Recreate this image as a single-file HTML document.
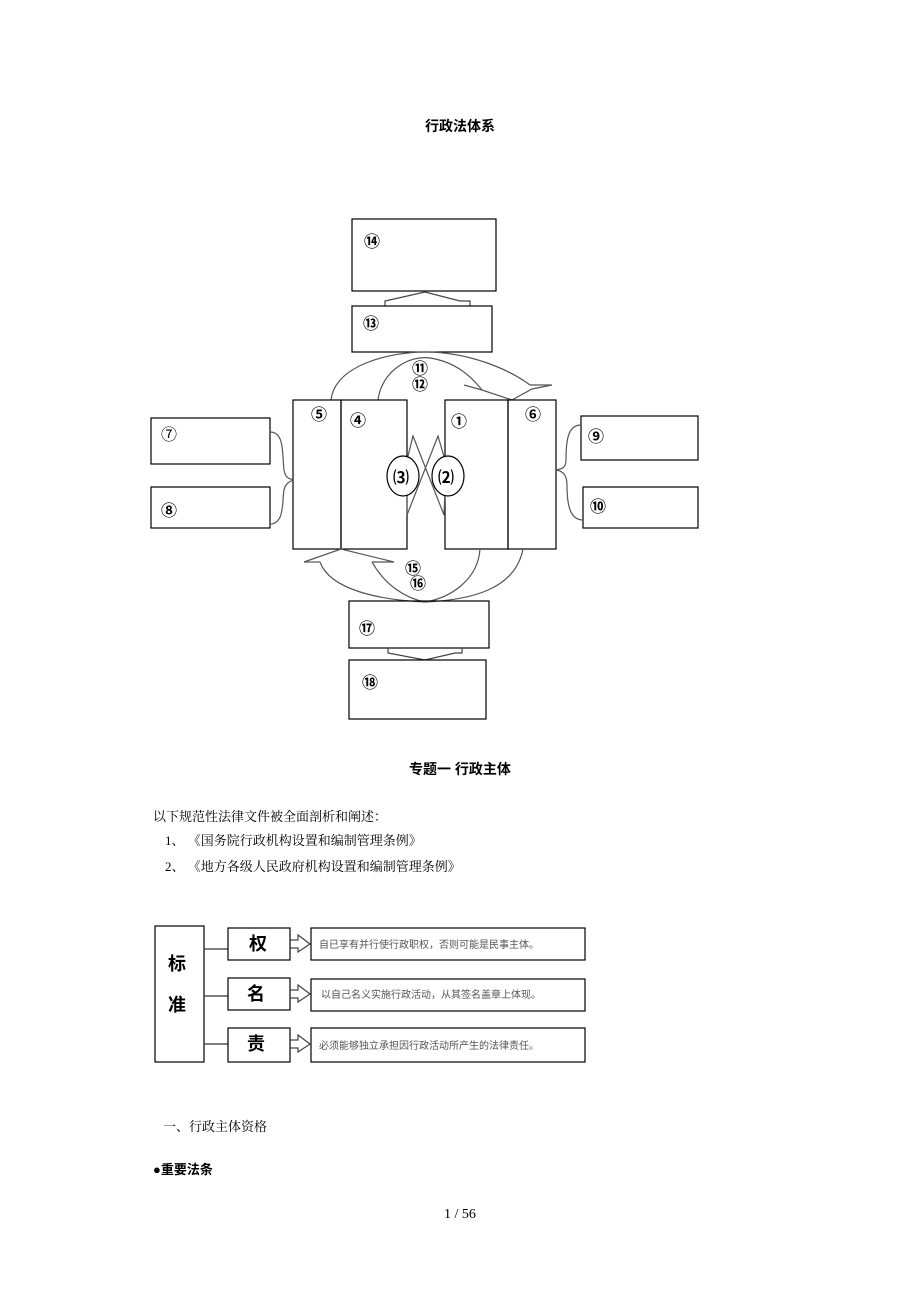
<!DOCTYPE html>
<html><head><meta charset="utf-8"><style>
html,body{margin:0;padding:0;background:#fff;}
body{width:920px;height:1302px;position:relative;overflow:hidden;font-family:"Liberation Serif","Noto Serif CJK SC",serif;color:#000;}
svg{position:absolute;left:0;top:0;}
.t{position:absolute;white-space:nowrap;font-size:13px;}
</style></head><body>
<div class="t" style="left:0;width:920px;text-align:center;top:116px;font-weight:bold;font-size:14px;font-family:'Liberation Sans','Noto Sans CJK SC',sans-serif;">行政法体系</div>
<div class="t" style="left:0;width:920px;text-align:center;top:759px;font-weight:bold;font-size:14px;font-family:'Liberation Sans','Noto Sans CJK SC',sans-serif;">专题一 行政主体</div>
<div class="t" style="left:153px;top:806px;">以下规范性法律文件被全面剖析和阐述：</div>
<div class="t" style="left:165px;top:830px;">1、 《国务院行政机构设置和编制管理条例》</div>
<div class="t" style="left:165px;top:856px;">2、 《地方各级人民政府机构设置和编制管理条例》</div>
<div class="t" style="left:163px;top:1116px;">一、行政主体资格</div>
<div class="t" style="left:153px;top:1159px;font-weight:bold;font-family:'Liberation Sans','Noto Sans CJK SC',sans-serif;">●重要法条</div>
<div class="t" style="left:0;width:920px;text-align:center;top:1207px;font-size:14px;">1 / 56</div>
<svg width="920" height="1302" viewBox="0 0 920 1302" fill="none" stroke="#000" stroke-width="1.2" font-family="Liberation Sans, Noto Sans CJK SC, sans-serif">
<rect x="352" y="219" width="144" height="72"/>
<path d="M385 306 V301 L425 292 L460 301 H470 V306" stroke="#444"/>
<rect x="352" y="306" width="140" height="46"/>
<path d="M331 400 C335 365 390 352 425 352 C470 352 510 370 530 385" stroke="#555"/>
<path d="M378 400 C382 370 410 355 430 358 C455 362 470 375 482 390" stroke="#555"/>
<path d="M464 385 L482 390 L512 400 L532 389 L552 385 L530 385" stroke="#555"/>
<rect x="293" y="400" width="48" height="149"/>
<rect x="341" y="400" width="66" height="149"/>
<rect x="445" y="400" width="63" height="149"/>
<rect x="508" y="400" width="48" height="149"/>
<path d="M407 460 L413 436 L444 515 L445 490 M445 460 L438 436 L407 515 L407 490" stroke="#555"/>
<ellipse cx="403" cy="476" rx="16" ry="20" fill="#fff"/>
<ellipse cx="448" cy="476" rx="16" ry="20" fill="#fff"/>
<rect x="151" y="418" width="119" height="46"/>
<rect x="151" y="487" width="119" height="41"/>
<rect x="581" y="416" width="117" height="44"/>
<rect x="583" y="487" width="115" height="41"/>
<path d="M270 432 C285 432 282 455 284 470 C286 480 290 478 293 480 M270 524 C285 524 282 500 284 490 C286 482 290 482 293 480" stroke="#555"/>
<path d="M581 425 C568 425 566 440 566 460 C566 468 562 469 556 470 M583 520 C570 520 567 505 567 485 C567 474 562 471 556 470" stroke="#555"/>
<path d="M320 562 C330 590 380 600 425 602 C470 600 515 590 523 549" stroke="#555"/>
<path d="M372 562 C385 585 405 598 425 602 C450 598 478 580 480 549" stroke="#555"/>
<path d="M304 562 L341 549 L394 562 H372" stroke="#555"/>
<path d="M304 562 H320" stroke="#555"/>
<rect x="349" y="601" width="140" height="47"/>
<path d="M388 648 V653 L425 660 L455 653 H462 V648" stroke="#444"/>
<rect x="349" y="660" width="137" height="59"/>
<g fill="#000" stroke="none" font-weight="bold" font-size="16">
<text x="364" y="247">⑭</text><text x="363" y="329">⑬</text>
<text x="412" y="374">⑪</text><text x="412" y="390">⑫</text>
<text x="311" y="420">⑤</text><text x="350" y="426">④</text>
<text x="451" y="427">①</text><text x="525" y="420">⑥</text>
<text x="393" y="483">⑶</text><text x="438" y="483">⑵</text>
<text x="161" y="440" font-weight="normal">⑦</text><text x="161" y="516">⑧</text>
<text x="588" y="442">⑨</text><text x="590" y="512">⑩</text>
<text x="405" y="574">⑮</text><text x="410" y="589">⑯</text>
<text x="359" y="634">⑰</text><text x="362" y="688">⑱</text>
</g>
<rect x="155" y="926" width="49" height="136"/>
<path d="M204 949 H228 M204 996 H228 M204 1044 H228" stroke="#333"/>
<rect x="228" y="928" width="62" height="32"/>
<rect x="228" y="978" width="62" height="32"/>
<rect x="228" y="1028" width="62" height="34"/>
<path d="M290 940 H298 V935 L310 944 L298 952 V948 H290" stroke="#444"/>
<path d="M290 990 H298 V985 L310 994 L298 1002 V998 H290" stroke="#444"/>
<path d="M290 1040 H298 V1035 L310 1044 L298 1052 V1048 H290" stroke="#444"/>
<rect x="311" y="928" width="274" height="32"/>
<rect x="311" y="979" width="274" height="32"/>
<rect x="311" y="1028" width="274" height="34"/>
<g fill="#000" stroke="none" font-weight="bold" font-size="18">
<text x="168" y="970">标</text><text x="168" y="1011">准</text>
<text x="249" y="950">权</text><text x="247" y="1000">名</text><text x="247" y="1050">责</text>
</g>
<g fill="#555" stroke="none" font-size="10">
<text x="319" y="948">自已享有并行使行政职权，否则可能是民事主体。</text>
<text x="321" y="998">以自己名义实施行政活动，从其签名盖章上体现。</text>
<text x="319" y="1049">必须能够独立承担因行政活动所产生的法律责任。</text>
</g>
</svg>
</body></html>
